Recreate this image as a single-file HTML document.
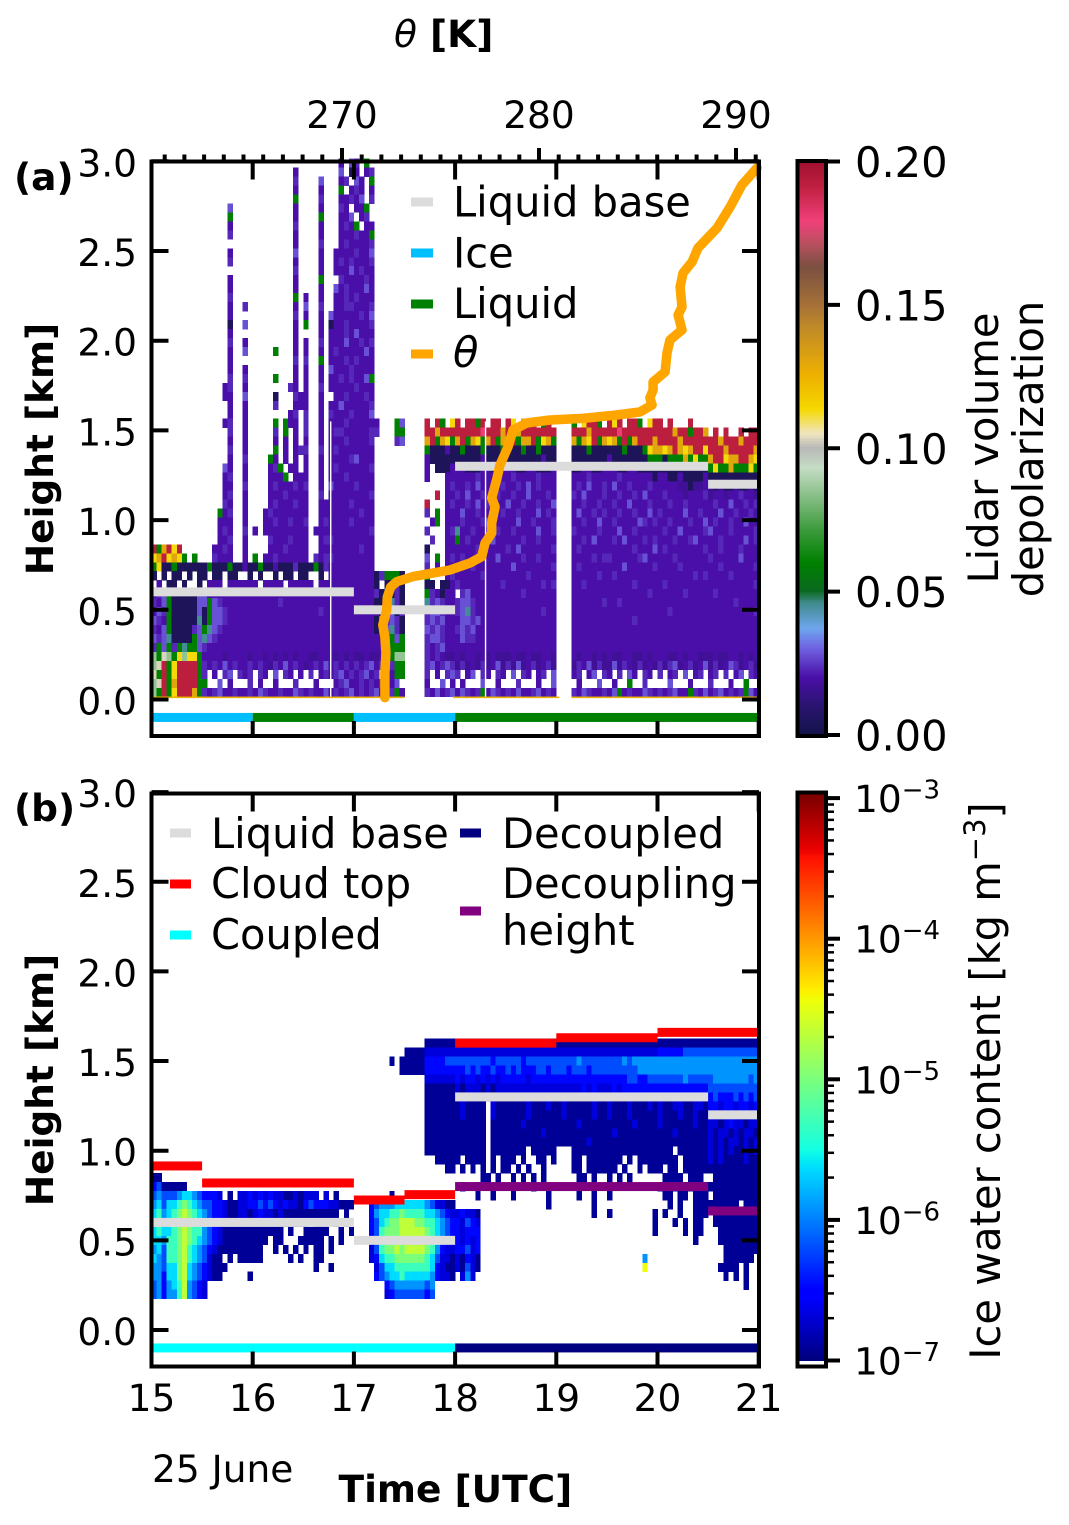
<!DOCTYPE html>
<html lang="en">
<head>
<meta charset="utf-8">
<title>Lidar depolarization and ice water content</title>
<style>
html,body{margin:0;padding:0;background:#fff;}
svg{display:block;font-family:"DejaVu Sans","Liberation Sans",sans-serif;}
text{fill:#000;}
</style>
</head>
<body>
<svg id="chart" xmlns="http://www.w3.org/2000/svg" width="1069" height="1525" viewBox="0 0 1069 1525">
  <g id="heat-a" shape-rendering="crispEdges"></g>
  <g id="heat-b" shape-rendering="crispEdges"></g>
  <g id="series"></g>
  <g id="axes"></g>
  <g id="colorbars"></g>

  <text x="14" y="190" font-size="37.5" font-weight="bold">(a)</text>
  <text x="14" y="821" font-size="37.5" font-weight="bold">(b)</text>
  <text x="394" y="47" font-size="37.5" font-weight="bold"><tspan font-style="italic" font-weight="normal">θ</tspan> [K]</text>
  <text transform="translate(53,449) rotate(-90)" text-anchor="middle" font-size="37.5" font-weight="bold">Height [km]</text>
  <text transform="translate(53,1080) rotate(-90)" text-anchor="middle" font-size="37.5" font-weight="bold">Height [km]</text>
  <text x="338.500" y="1502" font-size="37.5" font-weight="bold">Time [UTC]</text>
  <text x="152" y="1482" font-size="37.5">25 June</text>
  <text transform="translate(998,448) rotate(-90)" text-anchor="middle" font-size="41.6">Lidar volume</text>
  <text transform="translate(1043,449) rotate(-90)" text-anchor="middle" font-size="41.6">depolarization</text>
  <text transform="translate(1000,1081) rotate(-90)" text-anchor="middle" font-size="41.6">Ice water content [kg m<tspan font-size="29" dy="-15">−3</tspan><tspan dy="15">]</tspan></text>

  <g font-size="41.6">
    <rect x="411" y="197.500" width="22" height="9" fill="#dcdcdc"/>
    <text x="453" y="216.500">Liquid base</text>
    <rect x="411" y="248.500" width="22" height="9" fill="#00bfff"/>
    <text x="453" y="267.500">Ice</text>
    <rect x="411" y="299.500" width="22" height="9" fill="#008000"/>
    <text x="453" y="318">Liquid</text>
    <rect x="411" y="349.500" width="22" height="9" fill="#ffa500"/>
    <text x="453" y="367" font-style="italic">θ</text>
  </g>
  <g font-size="41.6">
    <rect x="170" y="828.500" width="21" height="9" fill="#dcdcdc"/>
    <text x="211" y="848">Liquid base</text>
    <rect x="170" y="879.500" width="21" height="9" fill="#ff0000"/>
    <text x="211" y="898">Cloud top</text>
    <rect x="170" y="930.500" width="21" height="9" fill="#00ffff"/>
    <text x="211" y="949">Coupled</text>
    <rect x="460" y="828.500" width="21" height="9" fill="#000080"/>
    <text x="502" y="848">Decoupled</text>
    <rect x="460" y="906.500" width="21" height="9" fill="#800080"/>
    <text x="502" y="898">Decoupling</text>
    <text x="502" y="945">height</text>
  </g>
</svg>

<script>
/* ---------- data ---------- */
const xTickValues = [15,16,17,18,19,20,21];
const xTickLabels = ['15','16','17','18','19','20','21'];
const yTickValues = [0,0.5,1,1.5,2,2.5,3];
const yTickLabels = ['0.0','0.5','1.0','1.5','2.0','2.5','3.0'];
const thetaTickValues = [270,280,290];
const thetaTickLabels = ['270','280','290'];
const depolTickValues = [0,0.05,0.1,0.15,0.2];
const depolTickLabels = ['0.00','0.05','0.10','0.15','0.20'];
const iwcExponents = [-7,-6,-5,-4,-3];
const iwcExponentLabels = ['−7','−6','−5','−4','−3'];

/* time/height-bin sizes of the two heatmaps */
const binHours = 0.05;
const binKm = 0.05;
const binsPerRow = 120;
const depolBaseKm = 0.015;
const iwcBaseKm = 0.175;

/* depolarization value for each letter of the matrix */
const depolCodes = {d:0.004,n:0.017,i:0.02,v:0.023,b:0.028,t:0.045,g:0.06,l:0.085,w:0.103,y:0.113,o:0.13,p:0.18,r:0.192};
/* ice water content (kg/m3) for each digit of the matrix */
const iwcCodes = [1.2e-7,2.1e-7,3.3e-7,6.3e-7,1.2e-6,2.3e-6,4.8e-6,1e-5,2.1e-5,3.6e-5];

/* rows top to bottom; columns grouped per half hour, "." = no signal */
const depolRows = [
".......... .......... .......... .......i.b v.g",
".......... .......... ........i. .......b.d i.iv",
".......... .......... ........v. ...b...iv. bi.g",
".......... .......... ........i. ...i...g.i vi.i",
".......... .......... ........g. ...v...iiv ib.v",
".......... .....b.... ........i. ...i...vi. iig.",
".......... .....g.... ........i. ...g...iib .iv.",
".......... .....i.... ........v. ...i...ivi g.ii",
".......... .....v.... ........i. ...i...iii viig",
".......... .......... ........i. ...v...ivi iiiv",
".......... .....i.... ........b. ...i..iiii viib",
".......... .....v.... ........i. ...i..iviv iiiv",
".......... .......... ........v. ...i..iiib ivii",
".......... .....i.... ........i. ...g...vii iivi",
".......... .....i.... ........i. ...i..bivi iibi",
".......... .....v.... ........g. i..i..iivi viii",
".......... .....i..v. ........i. b..v..iivv iiiv",
".......... .....i.... ........v. i..i.biiii ivib",
".......... .....d..b. ........i. g..i.diivi iiiv",
".......... .....i.... ........i. ...i.iiivi biii",
".......... .....v..i. ........i. i..v.iiibi iviv",
".......... .....i..b. ....g...i. i..i.iviii iibi",
".......... .....i.... ........v. v..g.iiivi viii",
".......... .....i..i. ........i. i..i.biiiv iiii",
".......... .....v..v. ....g...i. i..i.iiviv iibg",
".......... ....iv..i. .......vi. i..v.iiiii viii",
".......... ....ii..b. ....d...vi i..i..iivi iivi",
".......... .....i..i. ....v...ii i..i.iibii iiiv",
".......... .....i..i. .......iv. v..i.viiiv iiib",
".......... ....iv..i. ....g.gii. v..i.iiivi iiiii...gb ....r.rg.y r.rrgr.rr. ry.ogr.gr. ...g.yrrg. ryr.rrg.yr r.r...r...",
".......... .....v..i. ....v.g.i. v..i.ivvii iiivv...gg ....rrorrr rrrrrprrro rrorrrrrrr ...rrrorrr rrprrrrrrr rrrorrgrro .r.r..r.rr",
".......... .....i..i. ....i.i.i. i..i.iiivi iiiv....vb ....orgoyg orgoygorgo yrgoorgyog ...ogoyrgo yogrgorrro rrrrorrrrr rrorrrorrr",
".......... .....v..i. ....g.i.iv v..v.iviii iiii...... ....gdddid dgdddgdddg dddgddgddd ...dddgddd dddgdddgyo oyoroyorry rrrorrrrro",
".......... .....i..v. ...gi.i.i. i..i.iiiiv biii...... ....iddddd dddddidddd dddddddidd ...ddddddd idddddddgg gdgggogygg orryoorroy",
".......... ....bi..i. ...ivg.ii. i..i.iviii iiiv...... ....i.dddi iidddiiddi iiddiidddi ...ddiiddi iiddiidddd dddddddddd gyggogggyg",
".......... ....iv..i. ...iiig.ii i..i.iiivi iiii...... ....i...ii iiiiviiiii iviiiiviii ...iiiviii iiviiiiiid iiddiddddi dddddddddd",
".......... ....ii..v. ...iviiivi v..i.biiii viii...... ........iv iivibiiviv iivibiviii ...ivibiiv ibiiviiivi iiiinndnni ndnddnddnd",
".......... ....iv..i. ...iiiviii i..v.iiiii iiiv...... ......r.ii vibiiviivi iviibiiivi ...vibiiiv iiviivibii iviiiniiiv niiniiviin",
".......... ....vi..i. ...iviiivi i..iiiiiiv iiii...... ....r...iv iivibiviii biiviiviib ...iiviivi iviibiiivi iiviiviiii iviibiiviv",
".......... ...giv..i. ..iviiiiii i..iiiiiii ivii...... ....v.g.ii ibiiviiiiv iiviiibivi ...ibiiviv iiviiviibi viiiibiivi iibiiviivi",
".......... ...iii..i. ..iiviivii v..iviiiiv iiii...... .....ig.ii iviiivbiii iibiiviiiv ...iiviibi iviiiibviv iiviiiviib iviiviibii",
".......... ...ivi..v. i.iiiiiiii i.iiiiiiii iiiv...... ....v...iv tiiviiiivi iviiiibiiv ...viiiivi iibiiviiii iviibiiiiv biiiviiiiv",
".......... ...iiv..i. ...viiivii i..ivviiii iiii...... .....v..ii giviiiibii iiiviiviii ...iivibii ivibiiiviv iiiviivbii iiviiiibiv",
"rgoryr.... ..iivi..i. ...iiiviii i..iiiiiii ivii...... ....d...ii iiiiviiiii vibiiiiiiv ...iviiiii iiiiiviiib iviiiiiiiv iiviiiviii",
"yoryoyg.g. ..viii..i. g.iiviiiii i.vivviiii iiii...... ....b.g.iv iviiiiiibi iiiviiviii ...iiiiviv viiiiivbii iiiviiiiii viiiiibiii",
"gyddgddddd dgdddgddid dgddidddvd ddgdviiiii iiii...... ....v.i.ii iiiviiiiii ibiiiiiiiv ...iviiiii iiibiiiiiv iiiiviiiii iiviiiiiiv",
"d.d.dd.d.d d.dd.dd..d .d..d.dd.d d..d.iiiii iiiidvgggd ....g...iv iiiiiviiii iiiiviiiii ...iiiiivi iviiiiiiii iiiiiiiviv iiiiviiiii",
".i.dd.d..d .iii.iiiii i.iiii.iii ii.iiiiiii iiiid.ddvd ....dd.ddi viiiiiiiiv iiiiiiiviv ...iiviiii iiiiiviiii iviiiiiiii iiiiiiiiiv",
"ivbgdddddb biiiiiiiii iiiiiiiiii iiiiiiiiii iiiivdtdvd ....gvidii .vbiiiiiii iiiviiiiii ...iiiiiii iiiiiiiivi iiiiiviiii iviiiiiiii",
"vibgdddddb bgbviiiiii iiiiiviiii iiiiiiiiii iiiidddtvd ....tvbvii vbbviiiiii iiiiiiiiii ...iiiiiiv iiviiiiiii iiiiiiiiii iiiiiviiii",
"ibvgdddddb dgbbviiiii iiiiiiiiii iiiviiiiii iiiiidtbdv ....vbbvii vbtviiiiii iiiiiiivii ...iiiiiii iiiiiiiiii iiviiiiiii iiiiiiiiiv",
"bvigdddddt dgbbviiiii iiiiiiiiii iiiiiiiiii iiiidtvbvd ....vbvbii ibbvbiiiii iiiiiiiiii ...iiiiiii iiiiiviiii iiiiiiiiii iiiiiiiiii",
"vibgddddvb gtbviiiiii iiiiiiiiii iiiiiiiiii iiiidvbtvd ....bvbvii vbvbiiiiii iiiiiiiiii ...iiiiiii iiiiiiiiii iiiiiiiiii iiiiiiiiii",
"bvbtddddgb tbviiiiiii iiiiiiiiii iiiiiiiiii iiiiiivgbg ....vbbvii ibvviiiiii iiiiiiiiii ...iiiiiii iiiiiiiiii iiiiiiiiii iiiiiiiiii",
"vgbgvgtggb viiiiiiiii iiiiiiiiii iiiiiiiiii iiiiiivggg ....vivbii iiiiiiiiii iiiiiiiiii ...iiiiiii iiiiiiiiii iiiiiiiiii iiiiiiiiii",
"lgwlgylyyg iiiiniiiin iinininini inniiinini nninnivgll ....vivinn iniinininn ninninniin ...iniinin inniinnini iinniniinn ninniinini",
"lwrgyrrrrg vivibiviiv ivinvibivi nivibivivi vivbivivgg ....vbivbv nvninvnibn vnbnivnivn ...nvibnvn nbnvinvnin vnvbnivnib nvnibvnivn",
"wgrgyrrrrg v.i.vb.viv .vi.b.vi.i .v.ivivbiv ivbiv.vigg ....v.i.vb v.ib.vi.vi .b.vi.iv.b ...iv.ib.v i.v.bi.vi. v.iv.b.iv. iv.v.ib.vi",
"lwrgorrrrg g..b.i...v .i..i...v. ..i...ivbi iviviv.ib. ....i..b.i .i...b..i. ..v...i..b ....i...b. .i..g..v.. ..b...i... v...i..g..",
"lgrgyrrrog vivbiiviiv ibviiviibv iviibivivb ivivbiivgi ....vibivb ibvivgibvi vibiivbivi ...vibviiv ibgiviibvi vivbiigvib ivbivivgbi"
];

const iwcRows = [
".......... .......... .......... .......... .......... ....000000 0000000000 0000000000 0000000000 0000000000 0000000000 0000000000",
".......... .......... .......... .......... .......... 0000111111 1111111111 1111111111 1111111111 1111111111 2222233333 3333333333",
".......... .......... .......... .......... .......0.0 0000222233 3333333233 3332333333 3333433333 3334344444 4444444444 4444444444",
".......... .......... .......... .......... .........0 0000222222 2232322322 3232223323 3323332333 3333334444 4444444444 4444444444",
".......... .......... .......... .......... .......... ....111111 2122121212 2222122222 2222222222 2222332233 3333343333 3444444434",
".......... .......... .......... .......... .......... ....000000 1011101011 1111111111 1111121211 1212222222 2222222222 3333333333",
".......... .......... .......... .......... .......... ....000000 0000101000 0100001000 0010010100 1101110111 1111111111 2322232323",
".......... .......... .......... .......... .......... ....000000 010000.100 0000100010 0100000100 1000100010 1001100110 2212212212",
".......... .......... .......... .......... .......... ....000000 010000.100 0000100000 0100000100 1000100000 1000100100 1212121121",
".......... .......... .......... .......... .......... ....000000 000000.000 0001000000 0000100000 0000010000 1000000100 1101211011",
".......... .......... .......... .......... .......... ....000000 000000.000 0000000100 0000000000 0100000000 0001000000 1011010110",
".......... .......... .......... .......... .......... ....000000 000000.000 0000000000 0000001000 0000000000 0000000000 1010110101",
".......... .......... .......... .......... .......... ....000000 000000.000 0000.00000 ...0000000 0000000000 000.000000 1010100101",
".......... .......... .......... .......... .......... ......0000 0.0000.0.0 00.0..00.0 ...00.0000 000.0.0000 0000.00000 1010000100",
".......... .......... .......... .......... .......... ........00 .0.0.0.0.0 0.0.0..0.. ...00.0000 00.0..0.00 0.00.00000 0000000000",
"00........ .......... .......... .......... .......... .......... .....00.0. .0.0.0.0.. ....00.0.. 0.0.0..... .0000.000. .000000000",
"2300000... .......... .......... .......... .......... .......... .0..0..... .....0.... .......... .......... 00.0000000 0000000000",
"3433345543 2221.0.112 1212110010 111.1.0... .......0.. .......... ....0..0.. .0......0. ....0..0.. 0......... .00.00.000 .000000000",
"4535567654 3322100112 2323212110 2322211000 ...2344455 5555431100 .......... ........0. .......0.. .......... ..0.0..000 000000.000",
"5645678765 4322100110 1211010000 0000000.0. ...2455667 6666554321 12110..... .......... .......0.. 0........0 .0..0..000 .000000000",
"5646778866 5422110000 0000000000 0.000.0.0. ...2356778 8877665432 21321..... .......... .......... .........0 ...0.0.00. .000000000",
"5655678766 4321000000 000000.0.. 00000..0.0 ...2367778 8888765432 21222..... .......... .......... .........0 .....0.00. ..00000000",
"5546678765 4321000000 000.00...0 0000.0.0.. ...1367778 8888765322 21212..... .......... .......... .......... .......0.. ..00000000",
"4536678654 3210000000 00..0.0.0. 0.00.0.... ...1367787 8888764211 22312..... .......... .......... .......... .......... ...0000000",
"5436678654 3100.0.000 00.....0.0 ..00...... ...1256677 7777653110 10210..... .......... .......... .......4.. .......... ...000000.",
"4435578543 21000..... .......... ..0..0.... ....135566 6666652100 10310..... .......... .......... .......9.. .......... ..0000.0..",
"4425578543 2100.....0 .......... .......... ....234556 5555542110 .141...... .......... .......... .......... .......... ...0.0.0..",
"3424568432 1......... .......... .......... ......2344 444434.... .......... .......... .......... .......... .......... .......0..",
"3424468432 1......... .......... .......... ......1233 333323...."
];

/* hourly-or-longer segments drawn as thick bars */
const liquidBaseStart = [15,17,18,20.5];
const liquidBaseEnd = [17,18,20.5,21];
const liquidBaseKm = [0.6,0.5,1.3,1.2];
const cloudTopStart = [15,15.5,17,17.5,18,19,20];
const cloudTopEnd = [15.5,17,17.5,18,19,20,21];
const cloudTopKm = [0.915,0.82,0.725,0.755,1.6,1.63,1.66];
const decouplingStart = [18,20.5];
const decouplingEnd = [20.5,21];
const decouplingKm = [0.8,0.664];
const phaseStart = [15,16,17,18];
const phaseEnd = [16,17,18,21];
const phaseKinds = ['ice','liquid','ice','liquid'];
const couplingStart = [15,18];
const couplingEnd = [18,21];
const couplingKinds = ['coupled','decoupled'];
const statusKm = -0.1;

/* no-data lines in the lidar record */
const dataGapTimes = [16.77,18.3];
/* stretches of the thin near-surface return */
const surfaceStart = [15,17.98,19.15];
const surfaceEnd = [17.5,19.03,21];
const surfaceKm = 0.012;

/* potential temperature profile */
const thetaK = [272.18,272.18,272.23,272.18,272.07,272.27,272.30,272.47,272.78,273.60,274.97,275.48,276.50,277.09,277.26,277.60,277.60,277.77,277.60,277.85,278.02,278.43,278.68,279.38,280.56,282.23,283.94,285.13,285.74,285.63,285.79,285.79,286.40,286.50,286.65,287.26,287.06,287.26,287.16,287.31,287.77,288.07,289.04,289.70,290.30,291.07];
const thetaHeightKm = [0.01,0.148,0.259,0.348,0.415,0.499,0.571,0.627,0.657,0.685,0.712,0.722,0.761,0.796,0.872,0.928,0.984,1.075,1.123,1.224,1.307,1.409,1.502,1.541,1.558,1.567,1.586,1.603,1.642,1.681,1.725,1.77,1.826,1.932,2.004,2.06,2.143,2.188,2.299,2.377,2.439,2.517,2.628,2.745,2.868,2.963];

/* colour table anchors for the lidar colour bar */
const depolStops = [0,0.01,0.02,0.03,0.037,0.046,0.05,0.06,0.071,0.081,0.093,0.1,0.105,0.1135,0.1255,0.142,0.15,0.163,0.171,0.179,0.191,0.2];
const depolStopColors = ['#14144a','#2a1470','#4a0fa8','#6f62e0','#6ea6ee','#3f8a8a','#0a6a20','#008000','#3a9a3a','#7ab87a','#c5dcc5','#b8b8b8','#f0e6c0','#f5d800','#eeb000','#c08a28','#a57038','#7a5040','#b85060','#f0407a','#c02040','#a01030'];

/* ---------- axis functions ---------- */
const svgNS = 'http://www.w3.org/2000/svg';
const xT = t => 151.5 + (t - 15) * 101.2;
const yA = km => 699.5 - km * 179.4;
const yB = km => 1330 - km * 179.3;
const xTheta = th => 342 + (th - 270) * 19.7;
const yDepolBar = v => 735 - v * 2867.5;
const yIwcBar = e => 1360.5 - (e + 7) * 140.6;

function node(tag, parent, attrs) {
  const el = document.createElementNS(svgNS, tag);
  for (const k in attrs) el.setAttribute(k, attrs[k]);
  parent.appendChild(el);
  return el;
}
function hexToRgb(h) {
  return [parseInt(h.slice(1,3),16), parseInt(h.slice(3,5),16), parseInt(h.slice(5,7),16)];
}
function depolColor(v) {
  let i = 0;
  while (i < depolStops.length - 2 && v > depolStops[i + 1]) i++;
  const f = Math.min(1, Math.max(0, (v - depolStops[i]) / (depolStops[i + 1] - depolStops[i])));
  const a = hexToRgb(depolStopColors[i]);
  const b = hexToRgb(depolStopColors[i + 1]);
  return 'rgb(' + [0,1,2].map(k => Math.round(a[k] + (b[k] - a[k]) * f)).join(',') + ')';
}
function ramp(f, xs, ys) {
  for (let i = 0; i < xs.length - 1; i++) {
    if (f <= xs[i + 1]) return ys[i] + (ys[i + 1] - ys[i]) * (f - xs[i]) / (xs[i + 1] - xs[i]);
  }
  return ys[ys.length - 1];
}
function iwcColor(v) {
  const f = Math.min(1, Math.max(0, (Math.log10(v) + 7) / 4));
  const r = ramp(f, [0,0.35,0.66,0.89,1], [0,0,1,1,0.5]);
  const g = ramp(f, [0,0.125,0.375,0.64,0.91,1], [0,0,1,1,0,0]);
  const b = ramp(f, [0,0.11,0.34,0.65,1], [0.5,1,1,0,0]);
  return 'rgb(' + Math.round(r * 255) + ',' + Math.round(g * 255) + ',' + Math.round(b * 255) + ')';
}

/* ---------- heatmaps ---------- */
const heatA = document.getElementById('heat-a');
depolRows.forEach((row, i) => {
  const cells = row.replace(/ /g, '');
  const level = depolRows.length - 1 - i;
  for (let c = 0; c < cells.length && c < binsPerRow; c++) {
    if (cells[c] === '.') continue;
    const t = 15 + binHours * c;
    const km = depolBaseKm + binKm * level;
    const el = node('rect', heatA, {x: xT(t), y: yA(km + binKm), width: xT(t + binHours) - xT(t) + 0.3, height: yA(km) - yA(km + binKm) + 0.3, fill: depolColor(depolCodes[cells[c]])});
    
    
  }
});
const heatB = document.getElementById('heat-b');
iwcRows.forEach((row, i) => {
  const cells = row.replace(/ /g, '');
  const level = iwcRows.length - 1 - i;
  for (let c = 0; c < cells.length && c < binsPerRow; c++) {
    if (cells[c] === '.') continue;
    const t = 15 + binHours * c;
    const km = iwcBaseKm + binKm * level;
    const el = node('rect', heatB, {x: xT(t), y: yB(km + binKm), width: xT(t + binHours) - xT(t) + 0.3, height: yB(km) - yB(km + binKm) + 0.3, fill: iwcColor(iwcCodes[+cells[c]])});
    
    
  }
});

/* ---------- series ---------- */
const series = document.getElementById('series');
function segments(starts, ends, kms, color, yFn, name) {
  starts.forEach((s, i) => {
    const el = node('rect', series, {x: xT(s), y: yFn(kms[i]) - 4.5, width: Math.min(xT(ends[i]), 757) - xT(s), height: 9, fill: color});
    
    
  });
}
dataGapTimes.forEach(t => {
  const el = node('rect', series, {x: xT(t) - 0.6, y: yA(1.55), width: 1.4, height: yA(0) - yA(1.55), fill: '#ffffff'});
  
  
});
surfaceStart.forEach((s, i) => {
  const el = node('rect', series, {x: xT(s), y: yA(surfaceKm) - 0.8, width: Math.min(xT(surfaceEnd[i]), 757) - xT(s), height: 1.6, fill: depolColor(0.125)});
  
  
});
segments(liquidBaseStart, liquidBaseEnd, liquidBaseKm, '#dcdcdc', yA, 'liquid-base-a');
phaseStart.forEach((s, i) => {
  const el = node('rect', series, {x: xT(s), y: yA(statusKm) - 4.5, width: Math.min(xT(phaseEnd[i]), 757) - xT(s), height: 9, fill: phaseKinds[i] === 'ice' ? '#00bfff' : '#008000'});
  
  
});
const thetaPath = node('polyline', series, {points: thetaK.map((th, i) => xTheta(th).toFixed(1) + ',' + yA(thetaHeightKm[i]).toFixed(1)).join(' '), fill: 'none', stroke: '#ffa500', 'stroke-width': 9.5, 'stroke-linejoin': 'round', 'stroke-linecap': 'round'});



segments(decouplingStart, decouplingEnd, decouplingKm, '#800080', yB, 'decoupling-height');
segments(cloudTopStart, cloudTopEnd, cloudTopKm, '#ff0000', yB, 'cloud-top');
segments(liquidBaseStart, liquidBaseEnd, liquidBaseKm, '#dcdcdc', yB, 'liquid-base-b');
couplingStart.forEach((s, i) => {
  const el = node('rect', series, {x: xT(s), y: yB(statusKm) - 4.5, width: Math.min(xT(couplingEnd[i]), 757) - xT(s), height: 9, fill: couplingKinds[i] === 'coupled' ? '#00ffff' : '#000080'});
  
  
});

/* ---------- axes ---------- */
const axes = document.getElementById('axes');
function line(parent, x1, y1, x2, y2, w, name) {
  const el = node('line', parent, {x1: x1, y1: y1, x2: x2, y2: y2, stroke: '#000', 'stroke-width': w});
  
  
  return el;
}
function label(parent, x, y, size, anchor, str, name) {
  const el = node('text', parent, {x: x, y: y, 'font-size': size, 'text-anchor': anchor});
  el.textContent = str;
  
  
  return el;
}
function panel(yFn, top, bottom, tag) {
  const left = xT(15), right = 759;
  xTickValues.forEach(t => {
    line(axes, xT(t), top, xT(t), top + 18, 4, 'x-tick-top-' + tag);
    line(axes, xT(t), bottom, xT(t), bottom - 15, 4, 'x-tick-bottom-' + tag);
  });
  yTickValues.forEach((v, i) => {
    line(axes, left, yFn(v), left + 17, yFn(v), 4, 'y-tick-left-' + tag);
    line(axes, right, yFn(v), right - 17, yFn(v), 4, 'y-tick-right-' + tag);
    label(axes, 137, yFn(v) + 15, 37.5, 'end', yTickLabels[i], 'y-tick-label-' + tag);
  });
  const frame = node('rect', axes, {x: left, y: top, width: right - left, height: bottom - top, fill: 'none', stroke: '#000', 'stroke-width': 4});
  
  
}
panel(yA, 161.5, 736, 'a');
panel(yB, 793.5, 1366.5, 'b');
xTickLabels.forEach((s, i) => {
  label(axes, xT(xTickValues[i]), 1411, 37.5, 'middle', s, 'x-tick-label');
});
for (let th = 261; th <= 291; th++) {
  if (thetaTickValues.indexOf(th) >= 0) continue;
  line(axes, xTheta(th), 161, xTheta(th), 154.5, 4, 'theta-minor-tick');
}
thetaTickValues.forEach((th, i) => {
  line(axes, xTheta(th), 161, xTheta(th), 148, 4, 'theta-major-tick');
  label(axes, xTheta(th), 128, 37.5, 'middle', thetaTickLabels[i], 'theta-tick-label');
});

/* ---------- colour bars ---------- */
const bars = document.getElementById('colorbars');
const barGroup = node('g', bars, {'shape-rendering': 'crispEdges'});


const barLeft = 797, barRight = 826;
for (let p = 0; p < 300; p++) {
  const v = 0.2 * p / 300;
  const el = node('rect', barGroup, {x: barLeft, y: yDepolBar(v + 0.2 / 300), width: barRight - barLeft, height: 2.4, fill: depolColor(v)});
  
  
}
for (let p = 0; p < 300; p++) {
  const e = -7 + 4.05 * p / 300;
  const el = node('rect', barGroup, {x: barLeft, y: yIwcBar(e + 4.05 / 300), width: barRight - barLeft, height: 2.4, fill: iwcColor(Math.pow(10, e))});
  
  
}
const frameA = node('rect', bars, {x: 797.500, y: 161, width: 28.5, height: 575, fill: 'none', stroke: '#000', 'stroke-width': 4});


const frameB = node('rect', bars, {x: 797.500, y: 792.5, width: 28.5, height: 574, fill: 'none', stroke: '#000', 'stroke-width': 4});


depolTickValues.forEach((v, i) => {
  line(bars, 826, yDepolBar(v), 840, yDepolBar(v), 4, 'colorbar-tick-a');
  label(bars, 855, yDepolBar(v) + 15.5, 41.6, 'start', depolTickLabels[i], 'colorbar-label-a');
});
iwcExponents.forEach((e, i) => {
  line(bars, 826, yIwcBar(e), 840, yIwcBar(e), 4, 'colorbar-tick-b');
  if (e < -3) {
    for (let m = 2; m <= 9; m++) {
      const me = e + Math.log10(m);
      line(bars, 826, yIwcBar(me), 834, yIwcBar(me), 2.5, 'colorbar-minor-tick-b');
    }
  }
  const t = label(bars, 854, yIwcBar(e) + 14, 37.5, 'start', '10', 'colorbar-label-b');
  const sup = node('tspan', t, {'font-size': 26, dy: -13.5});
  sup.textContent = iwcExponentLabels[i];
  
  
});
</script>
</body>
</html>
